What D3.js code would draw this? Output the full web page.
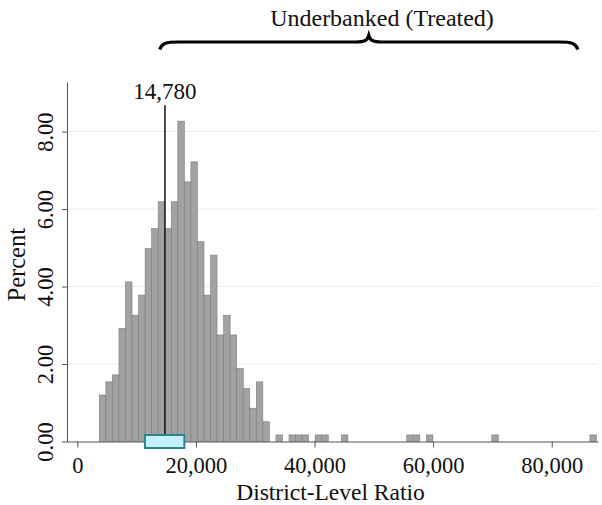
<!DOCTYPE html>
<html><head><meta charset="utf-8">
<script src="https://cdn.jsdelivr.net/npm/d3@7"></script>
<style>body{margin:0;background:#fff}</style>
</head><body><svg id="c" width="602" height="505"></svg>
<script>
// ---- data ----
const binMin = 3710;
const binWidth = 1103;
const percents = [
  1.20,1.54,1.72,2.92,4.12,3.26,3.78,4.98,5.50,6.19,
  5.50,6.19,8.27,6.70,7.22,5.16,3.78,4.81,2.75,3.26,
  2.75,1.89,1.37,0.86,1.54,0.51,0,0.17,0,0.17,
  0.17,0.17,0,0.17,0.17,0,0,0.17,0,0,
  0,0,0,0,0,0,0,0.17,0.17,0,
  0.17,0,0,0,0,0,0,0,0,0,
  0.17,0,0,0,0,0,0,0,0,0,
  0,0,0,0,0,0.17];
const xTicks = [0, 20000, 40000, 60000, 80000];
const yTicks = [0, 2, 4, 6, 8];
const median = 14780;
const iqr = [11400, 18050];
const braceSpan = [13900, 84400];
const titleText = "Underbanked (Treated)";
const xLabel = "District-Level Ratio";
const yLabel = "Percent";

// ---- chart ----
const svg = d3.select("#c");
const FONT = "'Liberation Serif', 'Times New Roman', serif";
const x = d3.scaleLinear().domain([-1740, 87800]).range([67, 598]);
const y = d3.scaleLinear().domain([0, 9.28]).range([441.5, 82]);

// gridlines
svg.append("g").selectAll("line").data(yTicks.filter(d => d > 0)).join("line")
  .attr("x1", x.range()[0] + 1).attr("x2", x.range()[1])
  .attr("y1", d => y(d)).attr("y2", d => y(d))
  .attr("stroke", "#ececec").attr("stroke-width", 1);

// bars
const bins = percents.map((v, i) => ({x0: binMin + i * binWidth, x1: binMin + (i + 1) * binWidth, v}));
svg.append("g").selectAll("rect").data(bins.filter(b => b.v > 0)).join("rect")
  .attr("x", b => x(b.x0)).attr("width", b => x(b.x1) - x(b.x0))
  .attr("y", b => y(b.v)).attr("height", b => y(0) - y(b.v))
  .attr("fill", "#a2a2a2").attr("stroke", "#7c7c7c").attr("stroke-width", 0.6);

// median line
svg.append("line")
  .attr("x1", x(median)).attr("x2", x(median))
  .attr("y1", y(8.68)).attr("y2", y(0))
  .attr("stroke", "#111").attr("stroke-width", 1.5);
svg.append("text").attr("x", x(median)).attr("y", 98.5)
  .attr("text-anchor", "middle").attr("font-family", FONT).attr("font-size", 23)
  .attr("fill", "#111").text(d3.format(",")(median));

// axes
const xAxis = svg.append("g").attr("transform", `translate(0,${y(0)})`)
  .call(d3.axisBottom(x).tickValues(xTicks).tickFormat(d3.format(",")).tickSize(6).tickSizeOuter(0));
xAxis.select(".domain").attr("stroke", "#555");
xAxis.selectAll(".tick line").attr("stroke", "#555");
xAxis.selectAll(".tick text").attr("font-family", FONT).attr("font-size", 22.5)
  .attr("fill", "#111").attr("dy", 0).attr("y", 31.5);

const yAxis = svg.append("g").attr("transform", `translate(${x.range()[0]},0)`)
  .call(d3.axisLeft(y).tickValues(yTicks).tickFormat(d3.format(".2f")).tickSize(5).tickSizeOuter(0));
yAxis.select(".domain").attr("stroke", "#555");
yAxis.selectAll(".tick line").attr("stroke", "#555");
yAxis.selectAll(".tick text").attr("font-family", FONT).attr("font-size", 22.5)
  .attr("fill", "#111").attr("transform", "rotate(-90)")
  .attr("text-anchor", "middle").attr("x", 0).attr("y", -14).attr("dy", 0);

// box (IQR)
svg.append("rect")
  .attr("x", x(iqr[0])).attr("width", x(iqr[1]) - x(iqr[0]))
  .attr("y", y(0) - 6.5).attr("height", 13)
  .attr("fill", "#c4f1fb").attr("stroke", "#2b8591").attr("stroke-width", 2);

// axis labels
svg.append("text").attr("x", (x.range()[0] + x.range()[1]) / 2 - 2).attr("y", 500)
  .attr("text-anchor", "middle").attr("font-family", FONT).attr("font-size", 23.5)
  .attr("fill", "#111").text(xLabel);
svg.append("text").attr("transform", `translate(25,${(y.range()[0] + y.range()[1]) / 2 + 3}) rotate(-90)`)
  .attr("text-anchor", "middle").attr("font-family", FONT).attr("font-size", 24.5)
  .attr("fill", "#111").text(yLabel);

// brace
const bx0 = x(braceSpan[0]), bx1 = x(braceSpan[1]), bxm = (bx0 + bx1) / 2;
const yBar = 42, yEnd = 49.5, yTip = 35.5;
const bracePath = `M${bx0},${yEnd} C${bx0 + 2},${yBar + 1} ${bx0 + 7},${yBar} ${bx0 + 18},${yBar}
  L${bxm - 13},${yBar} C${bxm - 5},${yBar} ${bxm - 1.5},${yBar - 1} ${bxm},${yTip}
  C${bxm + 1.5},${yBar - 1} ${bxm + 5},${yBar} ${bxm + 13},${yBar}
  L${bx1 - 18},${yBar} C${bx1 - 7},${yBar} ${bx1 - 2},${yBar + 1} ${bx1},${yEnd}`;
svg.append("path").attr("d", bracePath).attr("fill", "none")
  .attr("stroke", "#000").attr("stroke-width", 3.2);

svg.append("text").attr("x", 382).attr("y", 26)
  .attr("text-anchor", "middle").attr("font-family", FONT).attr("font-size", 24)
  .attr("fill", "#111").text(titleText);
</script></body></html>
